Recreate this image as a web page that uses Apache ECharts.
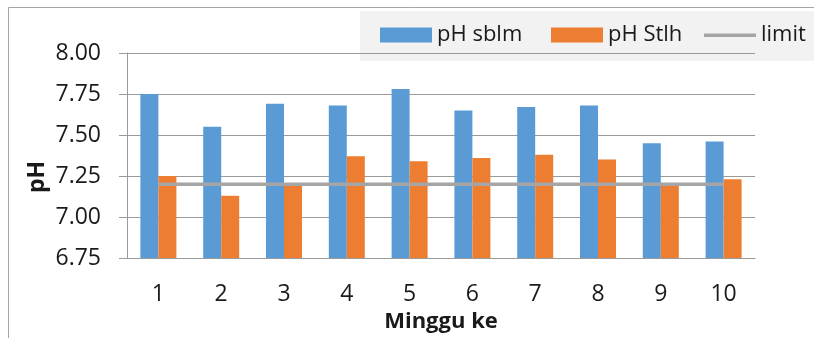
<!DOCTYPE html>
<html>
<head>
<meta charset="utf-8">
<script src="https://cdn.jsdelivr.net/npm/echarts@6/dist/echarts.min.js"></script>
<style>
html,body{margin:0;padding:0;background:#fff;}
#chart{width:814px;height:338px;}
</style>
</head>
<body>
<div id="chart"></div>
<script>
const categories = ['1','2','3','4','5','6','7','8','9','10'];
const phSebelum = [7.75, 7.55, 7.69, 7.68, 7.78, 7.65, 7.67, 7.68, 7.45, 7.46];
const phSetelah = [7.25, 7.13, 7.19, 7.37, 7.34, 7.36, 7.38, 7.35, 7.19, 7.23];
const limitValues = [7.2, 7.2, 7.2, 7.2, 7.2, 7.2, 7.2, 7.2, 7.2, 7.2];
const seriesNames = ['pH sblm', 'pH Stlh', 'limit'];
const yTicks = { min: 6.75, max: 8.0, interval: 0.25 };
const xAxisTitle = 'Minggu ke';
const yAxisTitle = 'pH';

const FONT = '"Open Sans", "Noto Sans", sans-serif';
const TXT = '#1a1a1a';
const GRID = '#9a9a9a';
const legendBase = {
  top: 24, padding: 0,
  itemWidth: 52, itemHeight: 15,
  textStyle: { fontFamily: FONT, fontSize: 22, color: TXT }
};
const chart = echarts.init(document.getElementById('chart'), null, {renderer:'canvas'});
chart.setOption({
  animation: false,
  backgroundColor: '#ffffff',
  textStyle: { fontFamily: FONT },
  graphic: [
    { type: 'rect', z: -10, silent: true, shape: { x: 8.5, y: 7.5, width: 820, height: 340 },
      style: { fill: '#ffffff', stroke: '#a6a6a6', lineWidth: 1 } },
    { type: 'rect', z: -5, silent: true, shape: { x: 360, y: 11, width: 460, height: 50 },
      style: { fill: '#f2f2f2' } },
    { type: 'text', x: 37, y: 177, rotation: Math.PI / 2, silent: true,
      style: { text: yAxisTitle, font: 'bold 23px ' + FONT, fill: TXT, align: 'center', verticalAlign: 'middle' } }
  ],
  legend: [
    Object.assign({}, legendBase, { left: 380, data: [{ name: seriesNames[0], icon: 'rect' }] }),
    Object.assign({}, legendBase, { left: 551, data: [{ name: seriesNames[1], icon: 'rect' }] }),
    Object.assign({}, legendBase, { left: 704,
      data: [{ name: seriesNames[2], icon: 'path://M0,0M0,15M0,6H52V9.5H0Z' }] })
  ],
  grid: { left: 127, top: 53, width: 628, height: 205, containLabel: false },
  xAxis: {
    type: 'category',
    data: categories,
    boundaryGap: true,
    name: xAxisTitle,
    nameLocation: 'middle',
    nameGap: 50,
    nameTextStyle: { fontFamily: FONT, fontSize: 22, fontWeight: 'bold', color: TXT },
    axisLine: { show: true, lineStyle: { color: GRID, width: 1 } },
    axisTick: { show: false },
    axisLabel: { fontFamily: FONT, fontSize: 23, color: TXT, margin: 25 }
  },
  yAxis: {
    type: 'value',
    min: yTicks.min, max: yTicks.max, interval: yTicks.interval,
    axisLine: { show: true, lineStyle: { color: GRID, width: 1 } },
    axisTick: { show: true, length: 8, lineStyle: { color: GRID } },
    splitLine: { show: true, lineStyle: { color: GRID, width: 1 } },
    axisLabel: { fontFamily: FONT, fontSize: 23, color: TXT, margin: 26,
      formatter: v => v.toFixed(2) }
  },
  series: [
    { name: seriesNames[0], type: 'bar', data: phSebelum, barWidth: 18, barGap: '0%',
      itemStyle: { color: '#5b9bd5' }, z: 2 },
    { name: seriesNames[1], type: 'bar', data: phSetelah, barWidth: 18, barGap: '0%',
      itemStyle: { color: '#ed7d31' }, z: 2 },
    { name: seriesNames[2], type: 'line', data: limitValues, symbol: 'none', showSymbol: false,
      lineStyle: { color: '#a5a5a5', width: 3.5 }, itemStyle: { color: '#a5a5a5' }, z: 5 }
  ]
});
</script>
</body>
</html>
